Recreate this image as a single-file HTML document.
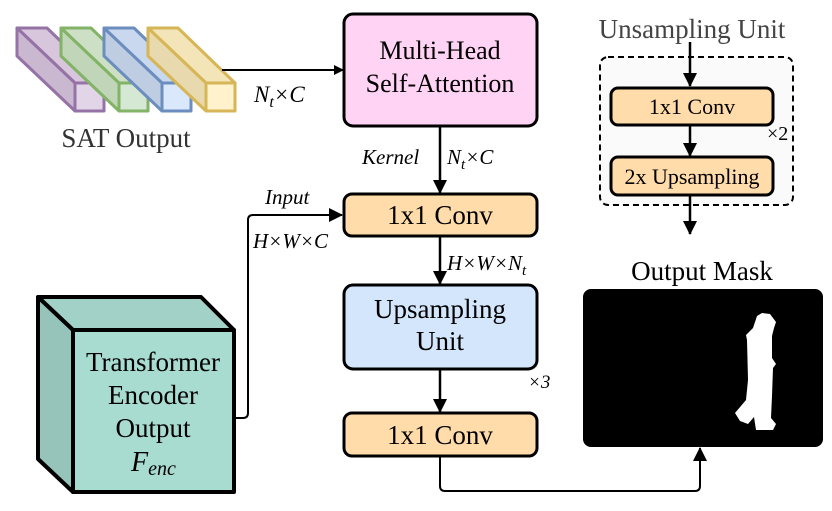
<!DOCTYPE html>
<html><head><meta charset="utf-8"><style>
html,body{margin:0;padding:0;background:#fff;}
svg{display:block;}
text{font-family:"Liberation Serif",serif;}
</style></head><body>
<svg width="832" height="511" viewBox="0 0 832 511" xmlns="http://www.w3.org/2000/svg">
<defs>
<marker id="ar" markerWidth="10" markerHeight="10" refX="9" refY="5" orient="auto" markerUnits="userSpaceOnUse">
<path d="M0,0 L10,5 L0,10 z" fill="#000"/></marker>
<marker id="ab" markerWidth="14" markerHeight="16" refX="13" refY="7" orient="auto" markerUnits="userSpaceOnUse">
<path d="M0,0 L14,7 L0,14 z" fill="#000"/></marker>
</defs>

<g stroke-width="3" stroke-linejoin="round">
<g stroke="#9673a6"><path d="M17,28 L47,28 L104,83 L75,83 Z" fill="#d7c6dc"/><path d="M17,28 L75,83 L75,111 L17,56 Z" fill="#c9b8cf"/><rect x="75" y="83" width="29" height="28" fill="#e1d5e7"/></g>
<g stroke="#82b366"><path d="M61,28 L91,28 L148,83 L119,83 Z" fill="#cde0c6"/><path d="M61,28 L119,83 L119,111 L61,56 Z" fill="#c1d6b9"/><rect x="119" y="83" width="29" height="28" fill="#d5e8d4"/></g>
<g stroke="#6c8ebf"><path d="M104,28 L134,28 L191,83 L162,83 Z" fill="#c9d8ee"/><path d="M104,28 L162,83 L162,111 L104,56 Z" fill="#bfcde2"/><rect x="162" y="83" width="29" height="28" fill="#dae8fc"/></g>
<g stroke="#d6b656"><path d="M148,28 L178,28 L235,83 L206,83 Z" fill="#f3e5b8"/><path d="M148,28 L206,83 L206,111 L148,56 Z" fill="#e8d9ae"/><rect x="206" y="83" width="29" height="28" fill="#fff2cc"/></g>
</g>
<text x="126" y="147" font-size="27" fill="#333" text-anchor="middle">SAT Output</text>

<line x1="222" y1="70" x2="343" y2="70" stroke="#000" stroke-width="2" marker-end="url(#ar)"/>
<text x="254" y="102" font-size="23" font-style="italic">N<tspan font-size="16" dy="5">t</tspan><tspan dy="-5">×C</tspan></text>

<rect x="344" y="14" width="193" height="112" rx="9" fill="#ffd3f3" stroke="#000" stroke-width="3"/>
<text x="440" y="59" font-size="26" text-anchor="middle">Multi-Head</text>
<text x="440" y="92" font-size="26" text-anchor="middle">Self-Attention</text>

<line x1="440" y1="126" x2="440" y2="193" stroke="#000" stroke-width="2.5" marker-end="url(#ab)"/>
<text x="362" y="164" font-size="21" font-style="italic">Kernel</text>
<text x="447" y="164" font-size="21" font-style="italic">N<tspan font-size="15" dy="5">t</tspan><tspan dy="-5">×C</tspan></text>

<rect x="344" y="194" width="193" height="42" rx="8" fill="#ffdca9" stroke="#000" stroke-width="3"/>
<text x="440" y="224" font-size="27" text-anchor="middle">1x1 Conv</text>

<path d="M236,418 L243,418 Q248,418 248,413 L248,220 Q248,215 253,215 L342,215" fill="none" stroke="#000" stroke-width="2" marker-end="url(#ab)"/>
<text x="265" y="204" font-size="21" font-style="italic">Input</text>
<text x="253" y="248" font-size="21" font-style="italic">H×W×C</text>

<line x1="440" y1="236" x2="440" y2="284" stroke="#000" stroke-width="2.5" marker-end="url(#ab)"/>
<text x="447" y="270" font-size="21" font-style="italic">H×W×N<tspan font-size="15" dy="5">t</tspan></text>

<rect x="344" y="285" width="193" height="84" rx="9" fill="#d4e6fc" stroke="#000" stroke-width="3"/>
<text x="440" y="318" font-size="27" text-anchor="middle">Upsampling</text>
<text x="440" y="350" font-size="27" text-anchor="middle">Unit</text>
<text x="528" y="388" font-size="19" font-style="italic">×3</text>

<line x1="440" y1="369" x2="440" y2="412" stroke="#000" stroke-width="2.5" marker-end="url(#ab)"/>

<rect x="344" y="413" width="193" height="43" rx="8" fill="#ffdca9" stroke="#000" stroke-width="3"/>
<text x="440" y="444" font-size="27" text-anchor="middle">1x1 Conv</text>

<path d="M440,456 L440,486 Q440,491 445,491 L695,491 Q700,491 700,486 L700,448" fill="none" stroke="#000" stroke-width="2" marker-end="url(#ab)"/>

<g stroke="#000" stroke-width="4" stroke-linejoin="round">
<path d="M38,297 L201,297 L234,330 L73,330 Z" fill="#a2d1c7"/>
<path d="M38,297 L73,330 L73,492 L38,459 Z" fill="#96c4ba"/>
<rect x="73" y="330" width="161" height="162" fill="#a8dcd0"/>
</g>
<text x="153" y="371" font-size="27" text-anchor="middle">Transformer</text>
<text x="153" y="404" font-size="27" text-anchor="middle">Encoder</text>
<text x="153" y="437" font-size="27" text-anchor="middle">Output</text>
<text x="131" y="471" font-size="28" font-style="italic">F<tspan font-size="20" dy="4">enc</tspan></text>

<text x="702" y="280" font-size="27" text-anchor="middle">Output Mask</text>
<rect x="583" y="289" width="240" height="158" rx="8" fill="#000"/>
<path d="M762,313 L770,314 L776,322 L774,328 L772,336 L772,358 L776,364 L773,368 L772,396 L771,418 L776,424 L773,430 L756,430 L754,417 L748,424 L740,421 L735,413 L746,400 L748,380 L747,340 L746,335 L753,328 L757,316 Z" fill="#fff"/>

<text x="692" y="38" font-size="27" fill="#444" text-anchor="middle">Unsampling Unit</text>
<rect x="600" y="57" width="193" height="148" rx="8" fill="#fafafa" stroke="#000" stroke-width="2" stroke-dasharray="6,4"/>
<line x1="690" y1="42" x2="690" y2="86" stroke="#000" stroke-width="2.5" marker-end="url(#ab)"/>
<rect x="611" y="88" width="162" height="37" rx="7" fill="#ffdca9" stroke="#000" stroke-width="3"/>
<text x="692" y="114" font-size="22" text-anchor="middle">1x1 Conv</text>
<text x="767" y="140" font-size="20">×2</text>
<line x1="690" y1="125" x2="690" y2="156" stroke="#000" stroke-width="2.5" marker-end="url(#ab)"/>
<rect x="611" y="157" width="162" height="38" rx="7" fill="#ffdca9" stroke="#000" stroke-width="3"/>
<text x="692" y="184" font-size="22" text-anchor="middle">2x Upsampling</text>
<line x1="690" y1="195" x2="690" y2="234" stroke="#000" stroke-width="2.5" marker-end="url(#ab)"/>
</svg>
</body></html>
